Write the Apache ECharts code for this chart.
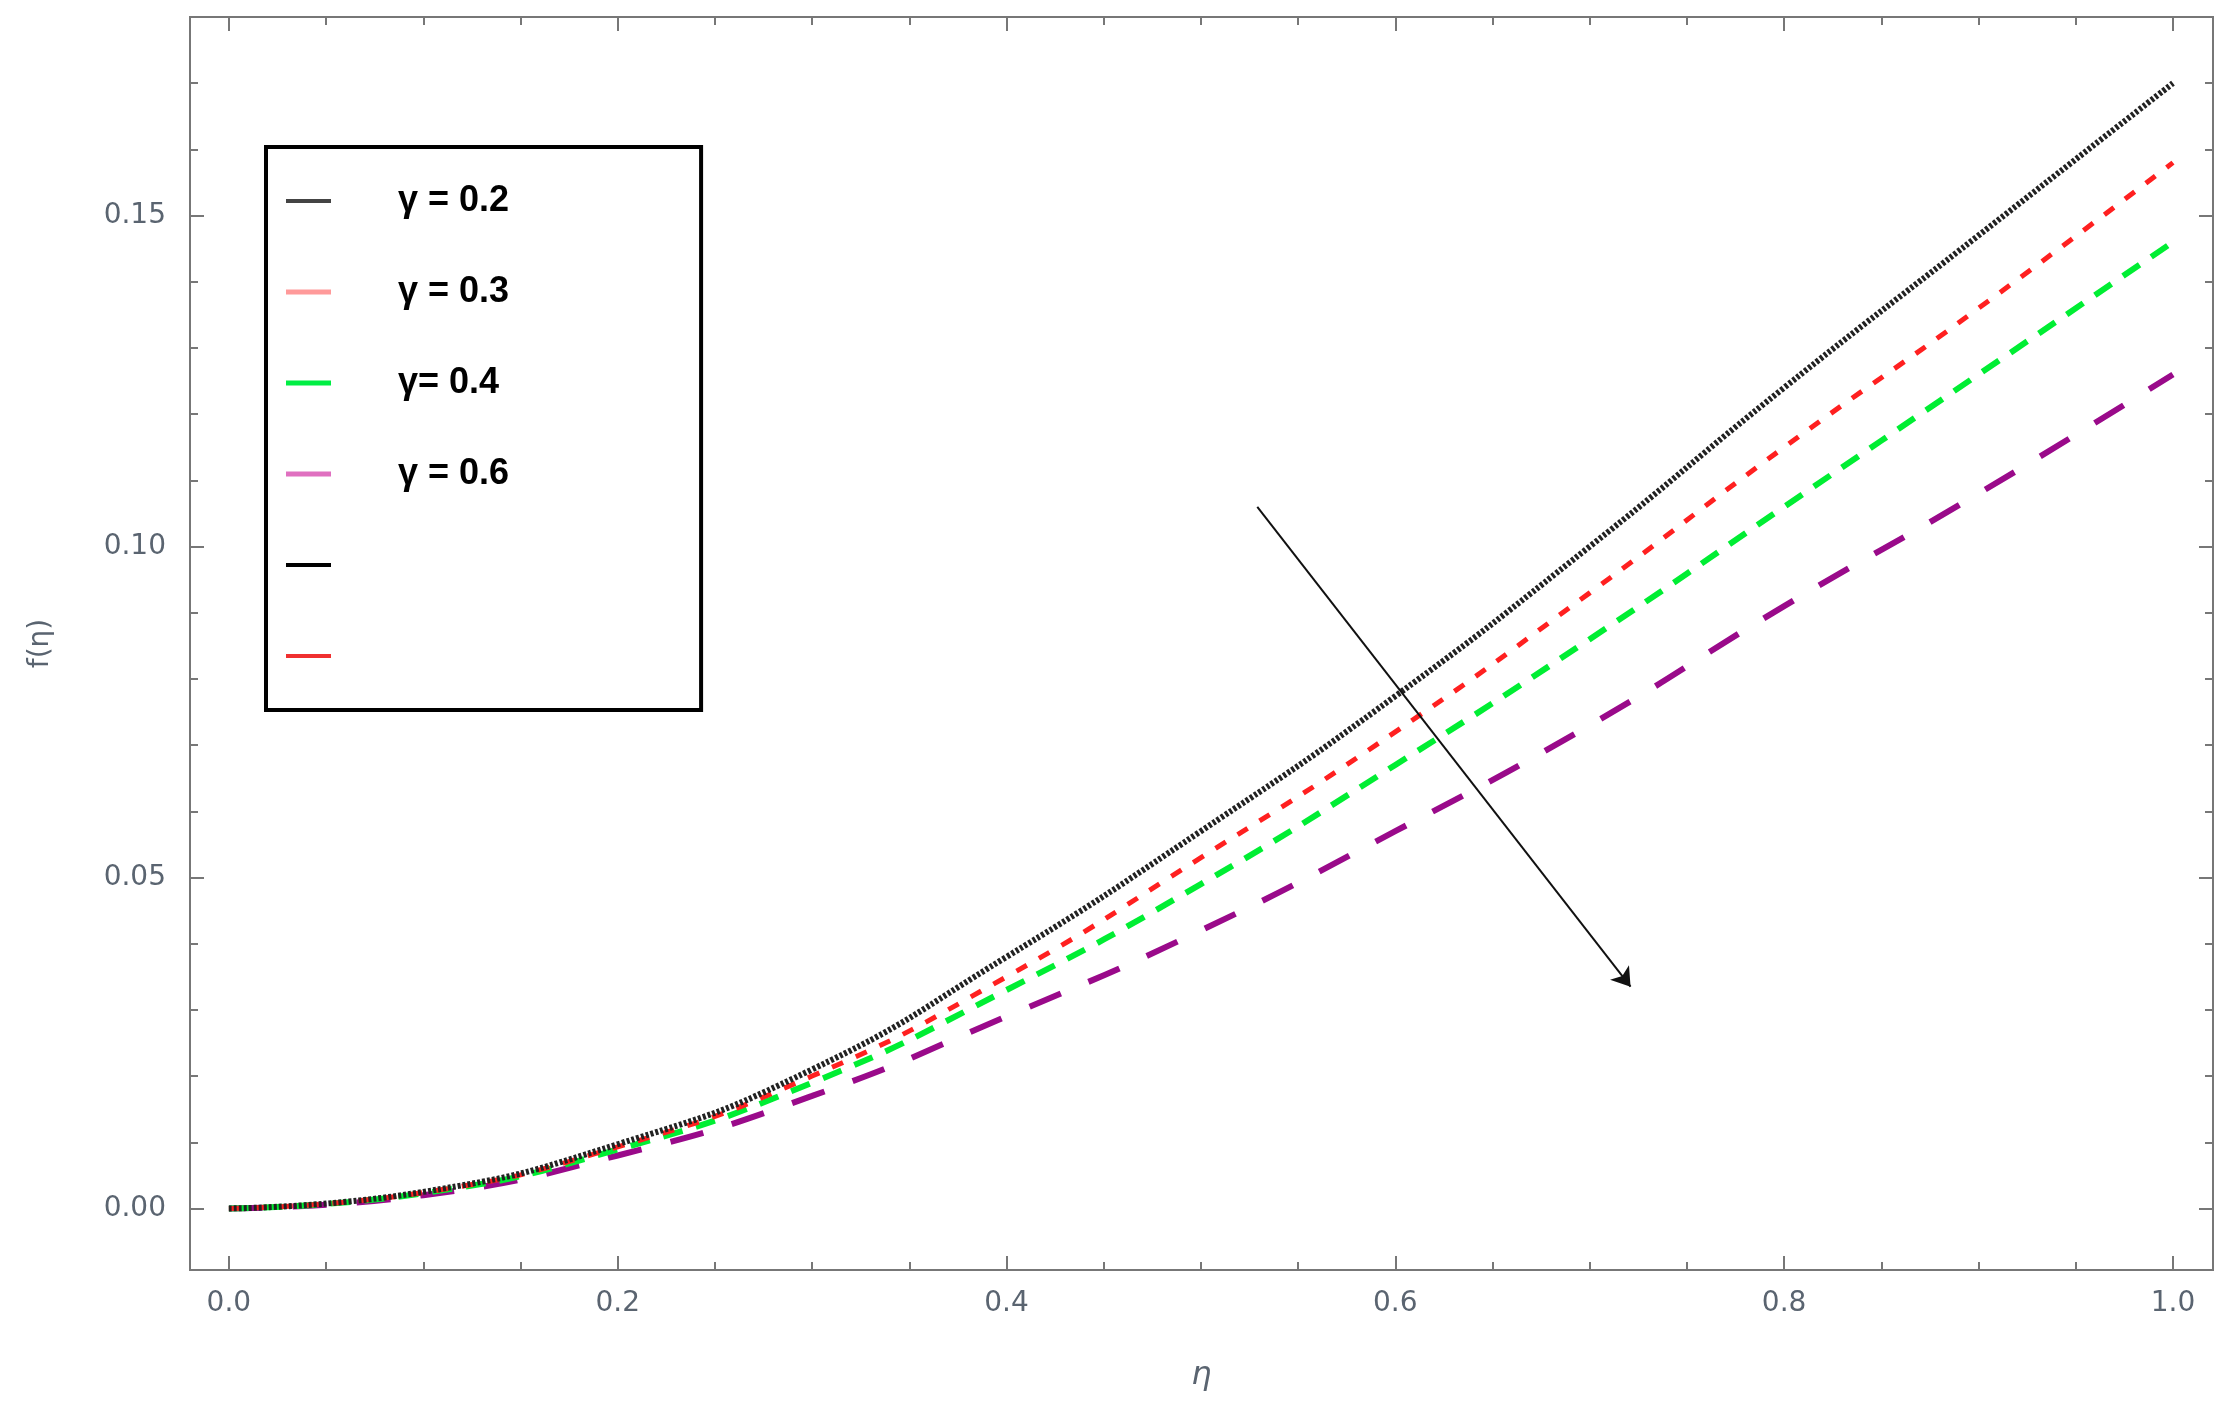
<!DOCTYPE html>
<html>
<head>
<meta charset="utf-8">
<script src="https://cdn.jsdelivr.net/npm/echarts@6/dist/echarts.min.js"></script>
<style>html,body{margin:0;padding:0;background:#fff}#chart{width:2230px;height:1417px}</style>
</head>
<body>
<div id="chart"></div>
<script>
var eta = [0, 0.1, 0.2, 0.3, 0.4, 0.5, 0.6, 0.7, 0.8, 0.9, 1.0];
var g02 = [0, 0.0025, 0.0097, 0.021, 0.038, 0.057, 0.0774, 0.100, 0.124, 0.147, 0.170];
var g03 = [0, 0.0024, 0.0093, 0.020, 0.035, 0.053, 0.072, 0.093, 0.115, 0.136, 0.158];
var g04 = [0, 0.0023, 0.0089, 0.019, 0.033, 0.049, 0.067, 0.086, 0.106, 0.126, 0.146];
var g06 = [0, 0.0020, 0.0080, 0.017, 0.029, 0.042, 0.057, 0.073, 0.091, 0.108, 0.126];
var xTicks = [0, 0.2, 0.4, 0.6, 0.8, 1.0];
var yTicks = [0, 0.05, 0.10, 0.15];
var arrowFrom = [0.529, 0.106];
var arrowTo = [0.721, 0.0335];

function pairs(ys){
	var out = [];
	for(var i = 0; i < eta.length; i++){
		out.push([eta[i], ys[i]]);
	}
	return out;
}
function steps(a, b, s){
	var out = [];
	for(var v = a; v <= b + 1e-9; v += s){
		out.push(Math.round(v * 1000) / 1000);
	}
	return out;
}
var xMinor = steps(0, 1, 0.05);
var yMinor = steps(0, 0.17, 0.01);

var chart = echarts.init(document.getElementById('chart'));
var axisCol = '#777';

function xAx(pos, show, major){
	return {
		type: 'value', position: pos, min: -0.02, max: 1.0206,
		axisLine: {show: true, onZero: false, lineStyle: {color: axisCol, width: 2}},
		axisTick: {show: true, inside: true, length: major ? 14 : 8, customValues: major ? xTicks : xMinor, lineStyle: {color: axisCol, width: 2}},
		axisLabel: {show: show, customValues: xTicks, margin: 20, formatter: function(v){return v.toFixed(1);}, fontSize: 28, color: '#5a6470', fontFamily: 'DejaVu Sans'},
		splitLine: {show: false},
		name: show ? 'η' : '', nameLocation: 'middle', nameGap: 90,
		nameTextStyle: {fontSize: 32, fontStyle: 'italic', color: '#5a6470', fontFamily: 'DejaVu Sans'}
	};
}
function yAx(pos, show, major){
	return {
		type: 'value', position: pos, min: -0.0093, max: 0.18,
		axisLine: {show: true, onZero: false, lineStyle: {color: axisCol, width: 2}},
		axisTick: {show: true, inside: true, length: major ? 14 : 8, customValues: major ? yTicks : yMinor, lineStyle: {color: axisCol, width: 2}},
		axisLabel: {show: show, customValues: yTicks, margin: 24, formatter: function(v){return v.toFixed(2);}, fontSize: 28, color: '#5a6470', fontFamily: 'DejaVu Sans'},
		splitLine: {show: false},
		name: show ? 'f(η)' : '', nameLocation: 'middle', nameGap: 135,
		nameTextStyle: {fontSize: 28, color: '#5a6470', fontFamily: 'DejaVu Sans'}
	};
}

var option = {
	animation: false,
	grid: {left: 190, right: 17, top: 17, bottom: 147},
	xAxis: [xAx('bottom', true, true), xAx('bottom', false, false), xAx('top', false, true), xAx('top', false, false)],
	yAxis: [yAx('left', true, true), yAx('left', false, false), yAx('right', false, true), yAx('right', false, false)],
	legend: {
		orient: 'vertical', left: 266, top: 147,
		padding: [36, 192, 36, 20], itemGap: 55, itemWidth: 45, itemHeight: 14,
		borderColor: '#000', borderWidth: 4,
		textStyle: {fontSize: 36, fontWeight: 'bold', color: '#000', fontFamily: 'Liberation Sans', padding: [0, 0, 0, 62]},
		data: [
			{name: 'γ = 0.2', icon: 'path://M0,0h45v4h-45z', itemStyle: {color: '#444'}},
			{name: 'γ = 0.3', icon: 'path://M0,0h45v5h-45z', itemStyle: {color: '#ff9a9a'}},
			{name: 'γ= 0.4', icon: 'path://M0,0h45v5h-45z', itemStyle: {color: '#00ee44'}},
			{name: 'γ = 0.6', icon: 'path://M0,0h45v5h-45z', itemStyle: {color: '#e070c0'}},
			{name: ' ', icon: 'path://M0,0h45v4h-45z', itemStyle: {color: '#000'}},
			{name: '  ', icon: 'path://M0,0h45v4h-45z', itemStyle: {color: '#f03030'}}
		]
	},
	series: [
		{name: 'γ = 0.6', type: 'line', smooth: true, showSymbol: false, data: pairs(g06), color: '#9a0a8a',
			lineStyle: {width: 6, type: [34, 30], color: '#9a0a8a'}},
		{name: 'γ= 0.4', type: 'line', smooth: true, showSymbol: false, data: pairs(g04), color: '#00ee33',
			lineStyle: {width: 6, type: [20, 14], color: '#00ee33'}},
		{name: 'γ = 0.3', type: 'line', smooth: true, showSymbol: false, data: pairs(g03), color: '#ff2020',
			lineStyle: {width: 5, type: [12, 14], color: '#ff2020'}},
		{name: 'γ = 0.2', type: 'line', smooth: true, showSymbol: false, data: pairs(g02), color: '#222',
			lineStyle: {width: 6, type: [3, 2], color: '#222'},
			markLine: {
				silent: true, symbol: ['none', 'arrow'], symbolSize: 18,
				lineStyle: {color: '#111', width: 2, type: 'solid'}, label: {show: false},
				data: [[{coord: arrowFrom}, {coord: arrowTo}]]
			}},
		{name: ' ', type: 'line', data: [], color: '#000'},
		{name: '  ', type: 'line', data: [], color: '#f03030'}
	]
};
chart.setOption(option);
</script>
</body>
</html>
